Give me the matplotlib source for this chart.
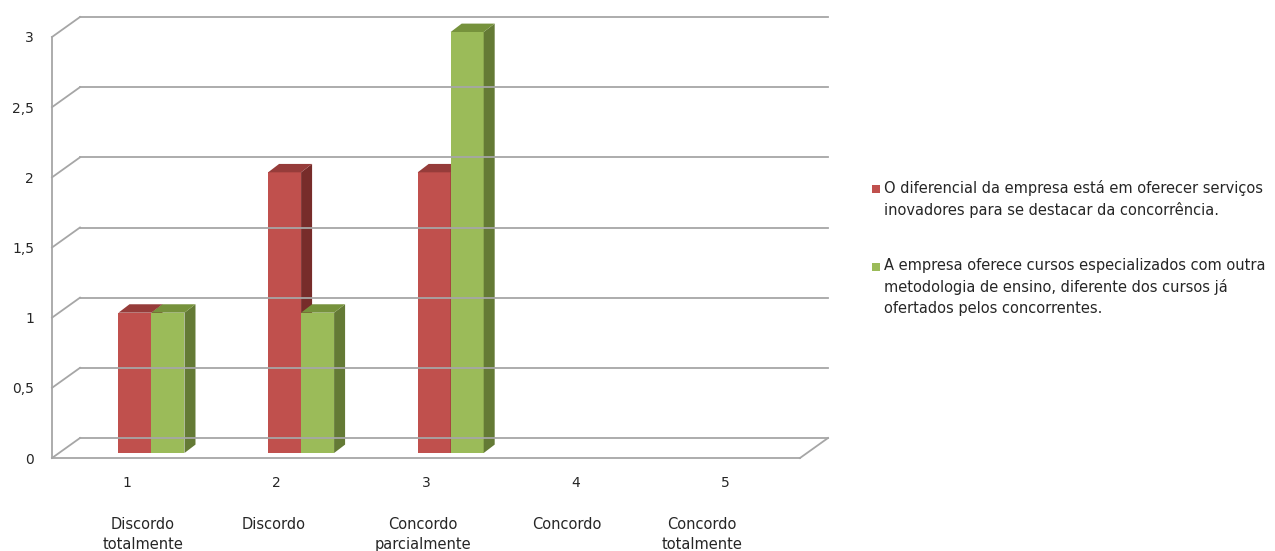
import numpy as np
import matplotlib
matplotlib.use("Agg")
import matplotlib.pyplot as plt
from matplotlib.patches import Polygon, Rectangle

plt.rcParams['font.family'] = ['DejaVu Sans']

categories = ['1', '2', '3', '4', '5']
cat_names = ['Discordo\ntotalmente', 'Discordo', 'Concordo\nparcialmente',
             'Concordo', 'Concordo\ntotalmente']
serie_a = [1, 2, 2, 0, 0]
serie_b = [1, 1, 3, 0, 0]
labels = ['O diferencial da empresa está em oferecer serviços\n'
          'inovadores para se destacar da concorrência.',
          'A empresa oferece cursos especializados com outra\n'
          'metodologia de ensino, diferente dos cursos já\n'
          'ofertados pelos concorrentes.']
yticks = [0, 0.5, 1, 1.5, 2, 2.5, 3]
yticklabels = ['0', '0,5', '1', '1,5', '2', '2,5', '3']

# cores (front, lado, topo)
red = ('#C0504D', '#772C2A', '#963C3A')
green = ('#9BBB59', '#647A35', '#76923C')
grid_c = '#A6A6A6'
txt_c = '#262626'

W, H = 1275, 551
fig = plt.figure(figsize=(W / 100, H / 100), dpi=100)
ax = fig.add_axes([52 / W, (H - 458) / H, 748 / W, 421 / H])
ax.set_xlim(0.5, 5.5)
ax.set_ylim(0, 3)
for s in ax.spines.values():
    s.set_visible(False)

ux = 5 / 748.0   # data units per pixel
uy = 3 / 421.0
bdx, bdy = 28 * ux, 20 * uy  # parede do fundo

# paredes / grade
for v in yticks:
    ax.plot([0.5 + bdx, 5.5 + bdx], [v + bdy, v + bdy], color=grid_c, lw=1.3, clip_on=False)
    ax.plot([0.5, 0.5 + bdx], [v, v + bdy], color=grid_c, lw=1.3, clip_on=False)
ax.plot([0.5, 0.5], [0, 3], color=grid_c, lw=1.3, clip_on=False)
ax.plot([0.5, 5.5], [0, 0], color=grid_c, lw=1.3, clip_on=False)
ax.plot([5.5, 5.5 + bdx], [0, bdy], color=grid_c, lw=1.3, clip_on=False)

# barras 3D
shift = 0.165
base = 5 * uy
bw = 33 * ux
ddx, ddy = 11 * ux, 8.4 * uy


def bar3d(x0, v, cols):
    if v == 0:
        return
    x1 = x0 + bw
    top = base + v
    ax.add_patch(Rectangle((x0, base), bw, v, facecolor=cols[0], edgecolor='none', clip_on=False))
    ax.add_patch(Polygon([(x1, base), (x1 + ddx, base + ddy), (x1 + ddx, top + ddy), (x1, top)],
                         closed=True, facecolor=cols[1], edgecolor='none', clip_on=False))
    ax.add_patch(Polygon([(x0, top), (x1, top), (x1 + ddx, top + ddy), (x0 + ddx, top + ddy)],
                         closed=True, facecolor=cols[2], edgecolor='none', clip_on=False))


xs = np.arange(1, len(categories) + 1)
for i, x in enumerate(xs):
    c = x + shift
    bar3d(c - bw, serie_a[i], red)
    bar3d(c, serie_b[i], green)

ax.set_yticks(yticks)
ax.set_yticklabels(yticklabels)
ax.set_xticks(xs)
ax.set_xticklabels(categories)
ax.tick_params(axis='y', length=0, pad=13, labelsize=10, labelcolor=txt_c)
ax.tick_params(axis='x', length=0, pad=13, labelsize=10, labelcolor=txt_c)

name_dx = [16, -3, -3, -9, -23]
for i, x in enumerate(xs):
    ax.text(x + name_dx[i] * ux, -59 * uy, cat_names[i], ha='center', va='top',
            fontsize=10.5, color=txt_c, linespacing=1.45, clip_on=False)

# legenda
leg_y = [180, 258]
for lab, col, y in zip(labels, [red[0], green[0]], leg_y):
    fig.patches.append(Rectangle((872 / W, 1 - (y + 13) / H), 8 / W, 8 / H,
                                 facecolor=col, edgecolor='none', transform=fig.transFigure))
    fig.text(884 / W, 1 - y / H, lab, ha='left', va='top', fontsize=10.5,
             color=txt_c, linespacing=1.48)

fig.savefig('out.png', dpi=100)
